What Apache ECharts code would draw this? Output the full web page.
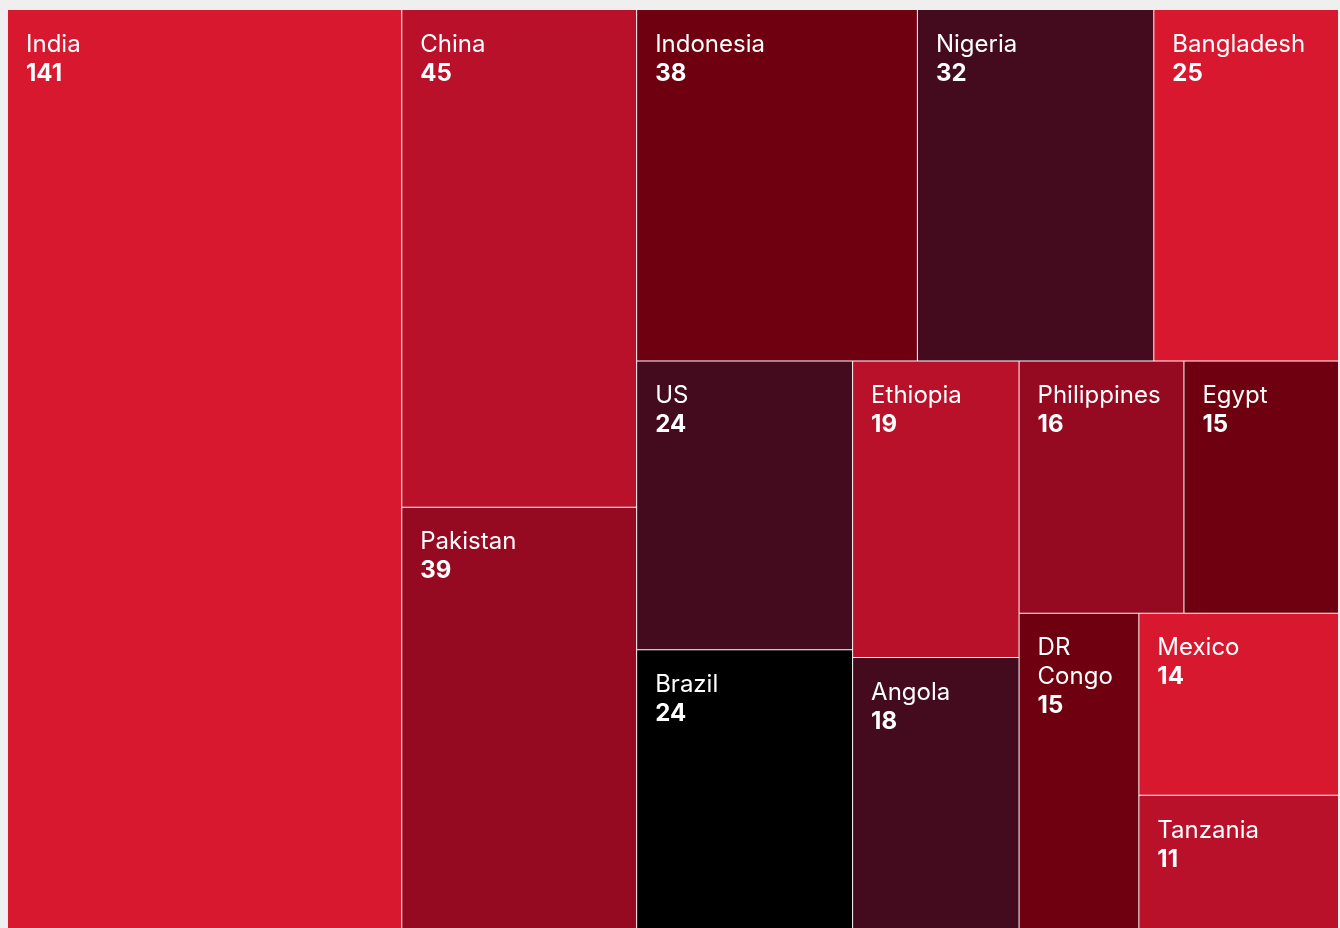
<!DOCTYPE html>
<html>
<head>
<meta charset="utf-8">
<script src="https://cdn.jsdelivr.net/npm/echarts@6/dist/echarts.min.js"></script>
<style>
  html, body { margin: 0; padding: 0; background: #efefef; }
  #chart { width: 1340px; height: 928px; }
</style>
</head>
<body>
<div id="chart"></div>
<script>
// Countries and their values, largest first
const countries = ['India', 'China', 'Pakistan', 'Indonesia', 'Nigeria', 'Bangladesh', 'US', 'Brazil',
  'Ethiopia', 'Angola', 'Philippines', 'Egypt', 'DR Congo', 'Mexico', 'Tanzania'];
const values = [141, 45, 39, 38, 32, 25, 24, 24, 19, 18, 16, 15, 15, 14, 11];

// Fill colour of each country's tile
const tileColors = ['#d8182f', '#b9112a', '#950a21', '#6f000f', '#430b1d', '#d8182f', '#430b1d', '#000000',
  '#b9112a', '#430b1d', '#950a21', '#6f000f', '#6f000f', '#d8182f', '#b9112a'];

// Nesting of the tiles (indices into the arrays above); each inner list becomes one block
const blocks = [0, [1, 2, [3, 4, 5, [6, 7, [[8, 9], [10, 11, [12, [13, 14]]]]]]]];

function buildNode(entry) {
  if (typeof entry === 'number') {
    return {
      name: countries[entry],
      value: values[entry],
      itemStyle: { color: tileColors[entry] }
    };
  }
  const children = entry.map(buildNode);
  return {
    name: '',
    value: children.reduce((s, c) => s + c.value, 0),
    children: children
  };
}

const treeData = blocks.map(buildNode);

const chart = echarts.init(document.getElementById('chart'), null, { renderer: 'canvas' });
chart.setOption({
  backgroundColor: '#efefef',
  animation: false,
  series: [{
    type: 'treemap',
    left: 8,
    top: 10,
    width: 1330,
    height: 928,
    roam: false,
    nodeClick: false,
    sort: false,
    squareRatio: 1.3,
    breadcrumb: { show: false },
    upperLabel: { show: false },
    itemStyle: {
      borderWidth: 0,
      gapWidth: 1,
      borderColor: '#ffffff'
    },
    label: {
      show: true,
      position: 'insideTopLeft',
      distance: 0,
      padding: [20, 8, 8, 18],
      overflow: 'break',
      color: '#ffffff',
      fontFamily: 'Inter',
      // name on the first line, value (bold) on the next
      formatter: '{n|{b}}{v|\n{c}}',
      rich: {
        n: { fontFamily: 'Inter', fontSize: 24, fontWeight: 400, lineHeight: 29, color: '#ffffff' },
        v: { fontFamily: 'Inter', fontSize: 24, fontWeight: 700, lineHeight: 29, color: '#ffffff' }
      }
    },
    emphasis: { disabled: true },
    data: treeData
  }]
});
</script>
</body>
</html>
